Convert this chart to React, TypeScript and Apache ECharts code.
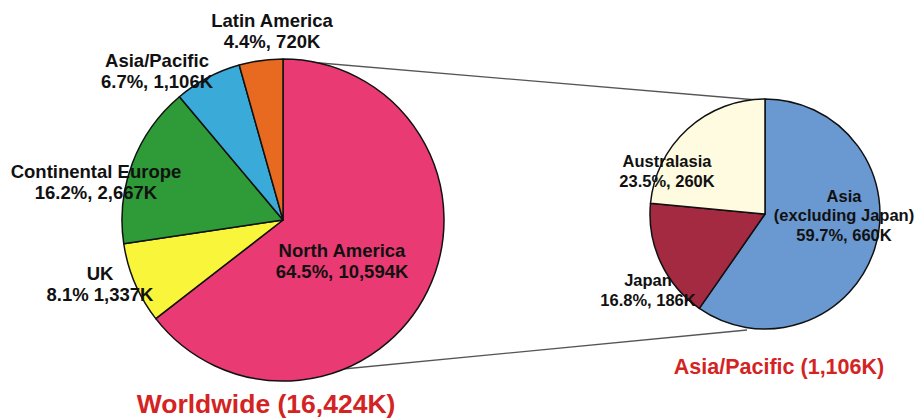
import React, { useEffect, useRef } from "react";
import * as echarts from "echarts";

const worldNames = ["North America", "UK", "Continental Europe", "Asia/Pacific", "Latin America"];
const worldValues = [10594, 1337, 2667, 1106, 720];
const worldPcts = ["64.5", "8.1", "16.2", "6.7", "4.4"];
const worldSeps = [", ", " ", ", ", ", ", ", "];
const worldColors = ["#ea3a73", "#f8f53a", "#2e9a38", "#3aaad8", "#e86a20"];

const apNames = ["Asia\n(excluding Japan)", "Japan", "Australasia"];
const apValues = [660, 186, 260];
const apPcts = ["59.7", "16.8", "23.5"];
const apColors = ["#6a98d0", "#a32a40", "#fffbe0"];

const worldTitle = "Worldwide (16,424K)";
const apTitle = "Asia/Pacific (1,106K)";

// label anchor positions (layout only)
const worldLabelPos = [
  [342, 261],
  [100, 284],
  [96, 182],
  [157, 71],
  [272, 31],
];
const apLabelPos = [
  [844, 215],
  [648, 290],
  [667, 171],
];

const FONT = "'Liberation Sans', Arial, sans-serif";
const fmt = (v: number) => v.toLocaleString("en-US");

const L = { cx: 283, cy: 220, r: 161 };
const R = { cx: 765, cy: 214, r: 115 };

export default function App() {
  const ref = useRef<HTMLDivElement>(null);
  useEffect(() => {
    document.body.style.margin = "0";
    const chart = echarts.init(ref.current!, null, { renderer: "svg" });
    const labelStyle = {
      show: true,
      position: "inside" as const,
      color: "#111",
      fontFamily: FONT,
      fontWeight: "bold" as const,
      fontSize: 18.5,
      lineHeight: 21.5,
    };
    chart.setOption({
      animation: false,
      backgroundColor: "#ffffff",
      graphic: [
        {
          type: "line",
          shape: { x1: L.cx + 2, y1: L.cy - L.r + 1, x2: R.cx - 8, y2: R.cy - R.r + 1 },
          style: { stroke: "#555", lineWidth: 1.3 },
          z: 0,
        },
        {
          type: "line",
          shape: { x1: 333, y1: 370, x2: 747, y2: 330 },
          style: { stroke: "#555", lineWidth: 1.3 },
          z: 0,
        },
        {
          type: "text",
          x: 266,
          y: 404,
          style: {
            text: worldTitle,
            fill: "#d42323",
            font: `bold 26.5px ${FONT}`,
            align: "center",
            verticalAlign: "middle",
          },
        },
        {
          type: "text",
          x: 779,
          y: 367,
          style: {
            text: apTitle,
            fill: "#d42323",
            font: `bold 21.5px ${FONT}`,
            align: "center",
            verticalAlign: "middle",
          },
        },
      ],
      series: [
        {
          type: "pie",
          center: [L.cx, L.cy],
          radius: L.r,
          startAngle: 90,
          clockwise: true,
          avoidLabelOverlap: false,
          itemStyle: { borderColor: "#111", borderWidth: 1.5 },
          label: {
            ...labelStyle,
            formatter: (p: any) =>
              `${worldNames[p.dataIndex]}\n${worldPcts[p.dataIndex]}%${worldSeps[p.dataIndex]}${fmt(worldValues[p.dataIndex])}K`,
          },
          labelLine: { show: false },
          labelLayout: (p: any) => ({
            x: worldLabelPos[p.dataIndex][0],
            y: worldLabelPos[p.dataIndex][1],
            align: "center",
            verticalAlign: "middle",
          }),
          emphasis: { disabled: true },
          data: worldNames.map((n, i) => ({
            name: n,
            value: worldValues[i],
            itemStyle: { color: worldColors[i] },
          })),
        },
        {
          type: "pie",
          center: [R.cx, R.cy],
          radius: R.r,
          startAngle: 90,
          clockwise: true,
          avoidLabelOverlap: false,
          itemStyle: { borderColor: "#111", borderWidth: 1.5 },
          label: {
            ...labelStyle,
            fontSize: 16.5,
            lineHeight: 19.5,
            formatter: (p: any) =>
              `${apNames[p.dataIndex]}\n${apPcts[p.dataIndex]}%, ${fmt(apValues[p.dataIndex])}K`,
          },
          labelLine: { show: false },
          labelLayout: (p: any) => ({
            x: apLabelPos[p.dataIndex][0],
            y: apLabelPos[p.dataIndex][1],
            align: "center",
            verticalAlign: "middle",
          }),
          emphasis: { disabled: true },
          data: apNames.map((n, i) => ({
            name: n,
            value: apValues[i],
            itemStyle: { color: apColors[i] },
          })),
        },
      ],
    });
    return () => chart.dispose();
  }, []);
  return <div ref={ref} style={{ width: 917, height: 419 }} />;
}
